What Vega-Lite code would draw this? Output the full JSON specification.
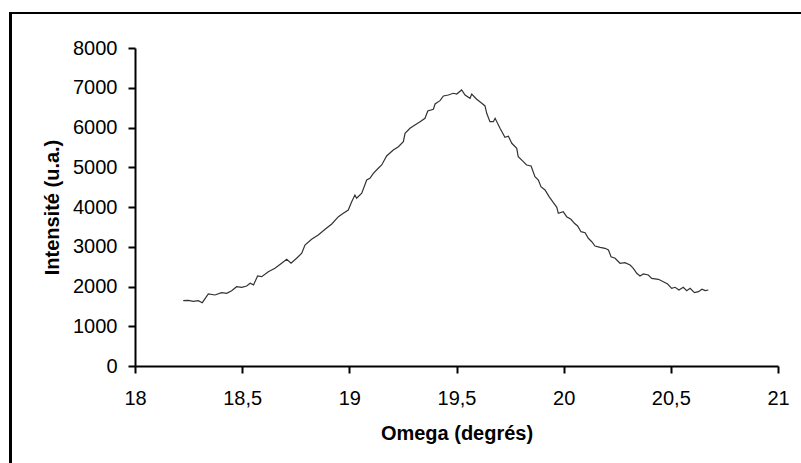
{
  "$schema": "https://vega.github.io/schema/vega-lite/v6.json",
  "width": 643,
  "height": 318,
  "autosize": {"type": "none"},
  "padding": {"left": 135, "top": 48, "right": 23, "bottom": 97},
  "background": "white",
  "config": {
    "view": {"stroke": null},
    "font": "Liberation Sans",
    "axis": {
      "grid": false,
      "domainColor": "black",
      "domainWidth": 2,
      "tickColor": "black",
      "tickWidth": 2,
      "tickSize": 7,
      "labelOverlap": false,
      "labelFont": "Liberation Sans",
      "labelFontSize": 20,
      "labelColor": "black",
      "titleFont": "Liberation Sans",
      "titleFontSize": 20,
      "titleFontWeight": "bold",
      "titleColor": "black"
    }
  },
  "data": {
    "values": [
      {"omega": 18.225, "intensite": 1643},
      {"omega": 18.249, "intensite": 1650},
      {"omega": 18.272, "intensite": 1628},
      {"omega": 18.295, "intensite": 1643},
      {"omega": 18.314, "intensite": 1593},
      {"omega": 18.342, "intensite": 1811},
      {"omega": 18.373, "intensite": 1786},
      {"omega": 18.404, "intensite": 1845},
      {"omega": 18.428, "intensite": 1829},
      {"omega": 18.451, "intensite": 1895},
      {"omega": 18.474, "intensite": 1995},
      {"omega": 18.498, "intensite": 1980},
      {"omega": 18.521, "intensite": 2013},
      {"omega": 18.537, "intensite": 2080},
      {"omega": 18.553, "intensite": 2040},
      {"omega": 18.572, "intensite": 2264},
      {"omega": 18.591, "intensite": 2247},
      {"omega": 18.622, "intensite": 2373},
      {"omega": 18.653, "intensite": 2458},
      {"omega": 18.684, "intensite": 2584},
      {"omega": 18.708, "intensite": 2685},
      {"omega": 18.728, "intensite": 2584},
      {"omega": 18.754, "intensite": 2710},
      {"omega": 18.778, "intensite": 2836},
      {"omega": 18.793, "intensite": 3044},
      {"omega": 18.824, "intensite": 3188},
      {"omega": 18.855, "intensite": 3296},
      {"omega": 18.887, "intensite": 3439},
      {"omega": 18.918, "intensite": 3573},
      {"omega": 18.949, "intensite": 3756},
      {"omega": 18.972, "intensite": 3842},
      {"omega": 18.995, "intensite": 3925},
      {"omega": 19.011, "intensite": 4134},
      {"omega": 19.026, "intensite": 4302},
      {"omega": 19.034, "intensite": 4219},
      {"omega": 19.058, "intensite": 4345},
      {"omega": 19.081, "intensite": 4680},
      {"omega": 19.096, "intensite": 4722},
      {"omega": 19.112, "intensite": 4848},
      {"omega": 19.135, "intensite": 4974},
      {"omega": 19.151, "intensite": 5057},
      {"omega": 19.174, "intensite": 5284},
      {"omega": 19.205, "intensite": 5434},
      {"omega": 19.229, "intensite": 5518},
      {"omega": 19.252, "intensite": 5644},
      {"omega": 19.260, "intensite": 5854},
      {"omega": 19.283, "intensite": 5980},
      {"omega": 19.306, "intensite": 6064},
      {"omega": 19.330, "intensite": 6147},
      {"omega": 19.353, "intensite": 6232},
      {"omega": 19.366, "intensite": 6416},
      {"omega": 19.392, "intensite": 6458},
      {"omega": 19.400, "intensite": 6592},
      {"omega": 19.423, "intensite": 6675},
      {"omega": 19.439, "intensite": 6793},
      {"omega": 19.462, "intensite": 6818},
      {"omega": 19.485, "intensite": 6861},
      {"omega": 19.501, "intensite": 6843},
      {"omega": 19.524, "intensite": 6944},
      {"omega": 19.540, "intensite": 6818},
      {"omega": 19.563, "intensite": 6735},
      {"omega": 19.571, "intensite": 6843},
      {"omega": 19.594, "intensite": 6710},
      {"omega": 19.618, "intensite": 6609},
      {"omega": 19.633, "intensite": 6542},
      {"omega": 19.641, "intensite": 6357},
      {"omega": 19.656, "intensite": 6147},
      {"omega": 19.672, "intensite": 6147},
      {"omega": 19.680, "intensite": 6232},
      {"omega": 19.703, "intensite": 5980},
      {"omega": 19.726, "intensite": 5754},
      {"omega": 19.742, "intensite": 5780},
      {"omega": 19.758, "intensite": 5603},
      {"omega": 19.781, "intensite": 5477},
      {"omega": 19.788, "intensite": 5266},
      {"omega": 19.812, "intensite": 5140},
      {"omega": 19.827, "intensite": 5057},
      {"omega": 19.848, "intensite": 5032},
      {"omega": 19.866, "intensite": 4763},
      {"omega": 19.882, "intensite": 4680},
      {"omega": 19.894, "intensite": 4511},
      {"omega": 19.913, "intensite": 4428},
      {"omega": 19.932, "intensite": 4260},
      {"omega": 19.952, "intensite": 4109},
      {"omega": 19.968, "intensite": 3993},
      {"omega": 19.975, "intensite": 3842},
      {"omega": 19.998, "intensite": 3882},
      {"omega": 20.014, "intensite": 3756},
      {"omega": 20.034, "intensite": 3691},
      {"omega": 20.050, "intensite": 3590},
      {"omega": 20.065, "intensite": 3522},
      {"omega": 20.081, "intensite": 3379},
      {"omega": 20.100, "intensite": 3354},
      {"omega": 20.115, "intensite": 3213},
      {"omega": 20.131, "intensite": 3127},
      {"omega": 20.146, "intensite": 3019},
      {"omega": 20.170, "intensite": 2986},
      {"omega": 20.193, "intensite": 2961},
      {"omega": 20.209, "intensite": 2919},
      {"omega": 20.221, "intensite": 2750},
      {"omega": 20.240, "intensite": 2710},
      {"omega": 20.263, "intensite": 2584},
      {"omega": 20.286, "intensite": 2601},
      {"omega": 20.310, "intensite": 2541},
      {"omega": 20.325, "intensite": 2458},
      {"omega": 20.341, "intensite": 2332},
      {"omega": 20.356, "intensite": 2264},
      {"omega": 20.372, "intensite": 2315},
      {"omega": 20.395, "intensite": 2290},
      {"omega": 20.411, "intensite": 2206},
      {"omega": 20.442, "intensite": 2181},
      {"omega": 20.465, "intensite": 2121},
      {"omega": 20.485, "intensite": 2063},
      {"omega": 20.504, "intensite": 1955},
      {"omega": 20.520, "intensite": 1980},
      {"omega": 20.538, "intensite": 1912},
      {"omega": 20.558, "intensite": 1980},
      {"omega": 20.574, "intensite": 1895},
      {"omega": 20.590, "intensite": 1955},
      {"omega": 20.610, "intensite": 1845},
      {"omega": 20.629, "intensite": 1870},
      {"omega": 20.645, "intensite": 1930},
      {"omega": 20.660, "intensite": 1895},
      {"omega": 20.675, "intensite": 1912}
    ]
  },
  "layer": [
    {
      "mark": {"type": "line", "color": "#333333", "strokeWidth": 1.2},
      "encoding": {
        "x": {
          "field": "omega",
          "type": "quantitative",
          "scale": {"domain": [18, 21], "nice": false, "zero": false},
          "axis": {
            "title": "Omega (degrés)",
            "values": [18, 18.5, 19, 19.5, 20, 20.5, 21],
            "labelExpr": "replace(format(datum.value, '~g'), '.', ',')",
            "labelPadding": 15,
            "titlePadding": 15,
            "labelFlush": false,
            "labelOverlap": false
          }
        },
        "y": {
          "field": "intensite",
          "type": "quantitative",
          "scale": {"domain": [0, 8000], "nice": false},
          "axis": {
            "title": "Intensité (u.a.)",
            "values": [0, 1000, 2000, 3000, 4000, 5000, 6000, 7000, 8000],
            "format": "d",
            "labelPadding": 11,
            "titlePadding": 10,
            "labelOverlap": false
          }
        }
      }
    },
    {
      "mark": {"type": "rect", "fill": null, "filled": false, "stroke": "black", "strokeWidth": 2, "clip": false},
      "encoding": {
        "x": {
          "datum": 17.417,
          "type": "quantitative",
          "axis": {
            "title": "Omega (degrés)",
            "values": [18, 18.5, 19, 19.5, 20, 20.5, 21],
            "labelExpr": "replace(format(datum.value, '~g'), '.', ',')",
            "labelPadding": 15,
            "titlePadding": 15,
            "labelFlush": false,
            "labelOverlap": false
          }
        },
        "x2": {"datum": 21.13},
        "y": {
          "datum": 8880,
          "type": "quantitative",
          "axis": {
            "title": "Intensité (u.a.)",
            "values": [0, 1000, 2000, 3000, 4000, 5000, 6000, 7000, 8000],
            "format": "d",
            "labelPadding": 11,
            "titlePadding": 10,
            "labelOverlap": false
          }
        },
        "y2": {"datum": -2480}
      }
    }
  ]
}
